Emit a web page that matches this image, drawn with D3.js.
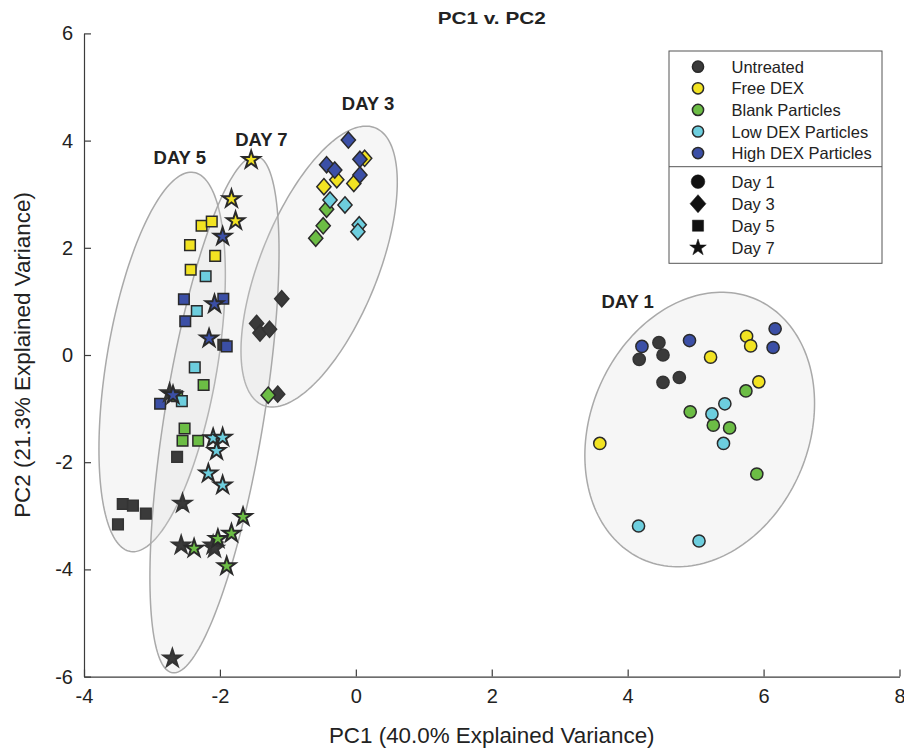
<!DOCTYPE html>
<html>
<head>
<meta charset="utf-8">
<script src="https://cdn.jsdelivr.net/npm/d3@7"></script>
<style>
  body { margin: 0; background: #fff; }
  text { font-family: "Liberation Sans", Arial, Helvetica, sans-serif; fill: #222; }
</style>
</head>
<body>
<svg id="chart" width="904" height="754"></svg>
<script>
const treatments = ["Untreated", "Free DEX", "Blank Particles", "Low DEX Particles", "High DEX Particles"];
const treatmentColors = ["#3a3a3a", "#f2e322", "#6cbd45", "#6dcede", "#3b4fa6"];
const days = ["Day 1", "Day 3", "Day 5", "Day 7"];
const dayShapes = ["circle", "diamond", "square", "star"];

const xTicks = [-4, -2, 0, 2, 4, 6, 8];
const yTicks = [-6, -4, -2, 0, 2, 4, 6];

// [treatment index, PC1, PC2]
const day1Points = [
  [0, 4.17, -0.08], [0, 4.46, 0.23], [0, 4.52, 0.0], [0, 4.76, -0.42], [0, 4.52, -0.51],
  [1, 5.22, -0.04], [1, 5.75, 0.35], [1, 5.81, 0.17], [1, 5.93, -0.50], [1, 3.59, -1.65],
  [2, 5.74, -0.67], [2, 4.92, -1.06], [2, 5.26, -1.31], [2, 5.50, -1.36], [2, 5.90, -2.22],
  [3, 5.43, -0.91], [3, 5.24, -1.10], [3, 5.41, -1.65], [3, 4.16, -3.19], [3, 5.05, -3.47],
  [4, 4.21, 0.16], [4, 4.91, 0.27], [4, 6.17, 0.49], [4, 6.14, 0.14]
];
const day3Points = [
  [0, -1.09, 1.05], [0, -1.46, 0.59], [0, -1.41, 0.41], [0, -1.27, 0.48], [0, -1.15, -0.73],
  [1, -0.28, 3.27], [1, -0.47, 3.14], [1, 0.13, 3.67], [1, -0.03, 3.20],
  [2, -0.43, 2.72], [2, -0.48, 2.41], [2, -0.59, 2.18], [2, -1.29, -0.75],
  [3, -0.38, 2.89], [3, -0.16, 2.80], [3, 0.05, 2.43], [3, 0.03, 2.30],
  [4, -0.11, 4.01], [4, -0.43, 3.55], [4, -0.31, 3.45], [4, 0.06, 3.65], [4, 0.06, 3.36]
];
const day5Points = [
  [0, -1.95, 0.19], [0, -2.63, -1.90], [0, -3.43, -2.78], [0, -3.28, -2.81], [0, -3.09, -2.96], [0, -3.50, -3.16],
  [1, -2.27, 2.41], [1, -2.12, 2.49], [1, -2.44, 2.05], [1, -2.07, 1.85], [1, -2.43, 1.59],
  [2, -2.24, -0.56], [2, -2.63, -0.77], [2, -2.52, -1.37], [2, -2.55, -1.60], [2, -2.32, -1.60],
  [3, -2.21, 1.47], [3, -2.34, 0.82], [3, -2.37, -0.23], [3, -2.56, -0.86],
  [4, -2.53, 1.04], [4, -1.95, 1.05], [4, -2.51, 0.63], [4, -1.90, 0.16], [4, -2.88, -0.91]
];
const day7Points = [
  [0, -2.74, -0.71], [0, -2.55, -2.77], [0, -2.57, -3.55], [0, -2.10, -3.55], [0, -2.08, -3.61], [0, -2.70, -5.66],
  [1, -1.54, 3.64], [1, -1.83, 2.91], [1, -1.77, 2.50],
  [2, -1.66, -3.02], [2, -2.38, -3.61], [2, -2.03, -3.43], [2, -1.83, -3.33], [2, -1.90, -3.94],
  [3, -2.10, -1.55], [3, -1.96, -1.54], [3, -2.05, -1.79], [3, -2.17, -2.21], [3, -1.96, -2.43],
  [4, -1.96, 2.21], [4, -2.08, 0.95], [4, -2.16, 0.31], [4, -2.69, -0.75]
];
const dayPoints = [day1Points, day3Points, day5Points, day7Points];

// [centre PC1, centre PC2, spread PC1, spread PC2, correlation]
const dayEllipses = [
  [5.06, -1.39, 1.69, 2.56, 0.19],
  [-0.54, 1.65, 1.15, 2.62, 0.60],
  [-2.85, -0.13, 0.93, 3.54, 0.46],
  [-2.08, -1.11, 0.95, 4.82, 0.63]
];

// [label, PC1, PC2]
const dayLabels = [
  ["DAY 1", 4.00, 0.87],
  ["DAY 3", 0.18, 4.57],
  ["DAY 5", -2.59, 3.56],
  ["DAY 7", -1.39, 3.90]
];

const svg = d3.select("#chart");
const margin = { left: 84, right: 4.5, top: 33.4, bottom: 77.4 };
const W = 904, H = 754;

const x = d3.scaleLinear().domain([-4, 8]).range([margin.left, W - margin.right]);
const y = d3.scaleLinear().domain([-6, 6]).range([H - margin.bottom, margin.top]);

const edge = "#2a2a2a";

// marker paths centred at 0,0
function markerPath(shape, s) {
  if (shape === "circle") {
    const r = 6.1 * s;
    return `M${r},0A${r},${r},0,1,1,${-r},0A${r},${r},0,1,1,${r},0Z`;
  }
  if (shape === "square") {
    const h = 5.3 * s;
    return `M${-h},${-h}H${h}V${h}H${-h}Z`;
  }
  if (shape === "diamond") {
    const w = 7.1 * s, h = 8.1 * s;
    return `M0,${-h}L${w},0L0,${h}L${-w},0Z`;
  }
  // star (pentagram)
  const R = 9.2 * s, r = R * 0.382;
  const pts = [];
  for (let i = 0; i < 10; i++) {
    const a = -Math.PI / 2 + i * Math.PI / 5;
    const rr = i % 2 === 0 ? R : r;
    pts.push([rr * Math.cos(a), rr * Math.sin(a)]);
  }
  return "M" + pts.map(p => p[0].toFixed(2) + "," + p[1].toFixed(2)).join("L") + "Z";
}

// ellipses
const ellLine = d3.line().curve(d3.curveLinearClosed);
const angles = d3.range(0, 2 * Math.PI, Math.PI / 90);
svg.append("g").selectAll("path")
  .data(dayEllipses)
  .join("path")
  .attr("d", e => {
    const [cx, cy, sx, sy, rho] = e;
    return ellLine(angles.map(t => [
      x(cx + sx * Math.cos(t)),
      y(cy + sy * (rho * Math.cos(t) + Math.sqrt(1 - rho * rho) * Math.sin(t)))
    ]));
  })
  .attr("fill", "#d9d9d9")
  .attr("fill-opacity", 0.24)
  .attr("stroke", "#a9a9a9")
  .attr("stroke-width", 1.5);

// axes
const xAxis = d3.axisBottom(x).tickValues(xTicks).tickFormat(d => String(d))
  .tickSizeInner(-7).tickSizeOuter(0).tickPadding(12);
const yAxis = d3.axisLeft(y).tickValues(yTicks).tickFormat(d => String(d))
  .tickSizeInner(-7).tickSizeOuter(0).tickPadding(11);

const gx = svg.append("g").attr("transform", `translate(0,${H - margin.bottom})`).call(xAxis);
const gy = svg.append("g").attr("transform", `translate(${margin.left},0)`).call(yAxis);
[gx, gy].forEach(g => {
  g.selectAll("path,line").attr("stroke", "#3c3c3c").attr("stroke-width", 1.2);
  g.selectAll("text").attr("font-size", 20).attr("fill", "#111")
    .attr("font-family", "Liberation Sans, Arial, sans-serif");
});

// points
days.forEach((day, di) => {
  svg.append("g").selectAll("path")
    .data(dayPoints[di])
    .join("path")
    .attr("transform", d => `translate(${x(d[1])},${y(d[2])})`)
    .attr("d", markerPath(dayShapes[di], 1))
    .attr("fill", d => treatmentColors[d[0]])
    .attr("stroke", d => d[0] === 0 ? "#333" : edge)
    .attr("stroke-width", dayShapes[di] === "star" ? 2 : 1.5)
    .attr("stroke-linejoin", "miter");
});

// day annotations
svg.append("g").selectAll("text")
  .data(dayLabels)
  .join("text")
  .attr("x", d => x(d[1]))
  .attr("y", d => y(d[2]))
  .attr("text-anchor", "middle")
  .attr("font-size", 18.5)
  .attr("font-weight", "bold")
  .text(d => d[0]);

// title and axis labels
svg.append("text")
  .attr("x", (x(-4) + x(8)) / 2).attr("y", 24)
  .attr("text-anchor", "middle")
  .attr("font-size", 16.5).attr("font-weight", "bold")
  .attr("textLength", 108).attr("lengthAdjust", "spacingAndGlyphs")
  .text("PC1 v. PC2");

svg.append("text")
  .attr("x", (x(-4) + x(8)) / 2).attr("y", 743)
  .attr("text-anchor", "middle")
  .attr("font-size", 22.4)
  .text("PC1 (40.0% Explained Variance)");

svg.append("text")
  .attr("transform", `translate(30,${(y(-6) + y(6)) / 2}) rotate(-90)`)
  .attr("text-anchor", "middle")
  .attr("font-size", 22.4)
  .text("PC2 (21.3% Explained Variance)");

// legend
const legend = svg.append("g");
const lgLeft = 669, lgRight = 882, lgTop = 51, lgMid = 166.7, lgBottom = 263.3;
legend.append("rect")
  .attr("x", lgLeft).attr("y", lgTop)
  .attr("width", lgRight - lgLeft).attr("height", lgBottom - lgTop)
  .attr("fill", "#fff").attr("stroke", "#555").attr("stroke-width", 1);
legend.append("line")
  .attr("x1", lgLeft).attr("x2", lgRight).attr("y1", lgMid).attr("y2", lgMid)
  .attr("stroke", "#555").attr("stroke-width", 1);

const rowStep = 21.6;
treatments.forEach((t, i) => {
  const yy = 66.7 + i * rowStep;
  legend.append("circle").attr("cx", 698).attr("cy", yy).attr("r", 5.6)
    .attr("fill", treatmentColors[i]).attr("stroke", edge).attr("stroke-width", 1.5);
  legend.append("text").attr("x", 731.5).attr("y", yy + 6).attr("font-size", 16.5).text(t);
});
days.forEach((d, i) => {
  const yy = 181.7 + i * 22;
  const s = dayShapes[i] === "square" ? 1.05 : dayShapes[i] === "star" ? 0.95 : 1.12;
  legend.append("path")
    .attr("transform", `translate(698,${yy})`)
    .attr("d", markerPath(dayShapes[i], s))
    .attr("fill", "#111").attr("stroke", "#111").attr("stroke-width", 0.5);
  legend.append("text").attr("x", 731.5).attr("y", yy + 6).attr("font-size", 16.5).text(d);
});
</script>
</body>
</html>
